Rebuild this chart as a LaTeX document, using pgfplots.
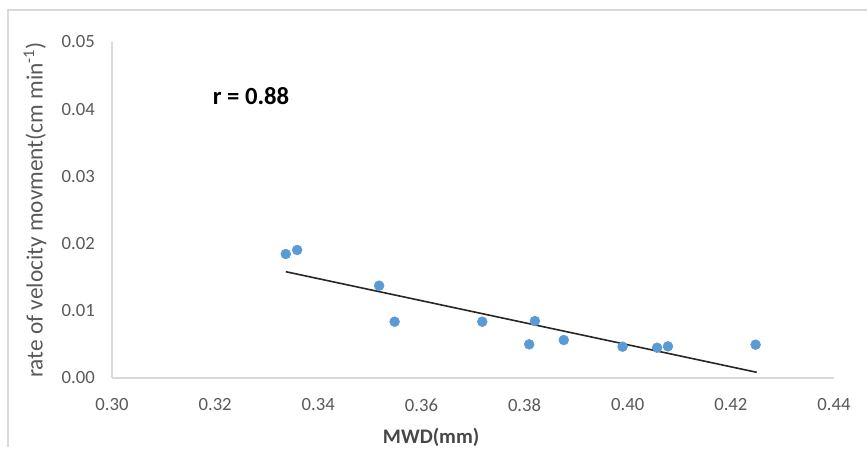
\documentclass[border=0pt]{standalone}
\usepackage{pgfplots}
\pgfplotsset{compat=1.18}
\usepackage{fontspec}
\setmainfont{Carlito}
\definecolor{ptblue}{RGB}{91,155,213}
\definecolor{txtgray}{RGB}{89,89,89}
\definecolor{axgray}{RGB}{217,217,217}
\definecolor{frgray}{RGB}{217,217,217}
\begin{document}
\begin{tikzpicture}
\begin{axis}[
  name=ax,
  scale only axis,
  width=541.5pt, height=252pt,
  xmin=0.30, xmax=0.44, ymin=0, ymax=0.05,
  xtick={0.30,0.32,0.34,0.36,0.38,0.40,0.42,0.44},
  ytick={0,0.01,0.02,0.03,0.04,0.05},
  axis x line*=bottom, axis y line*=left,
  axis line style={draw=axgray, line width=1.1pt, -},
  major tick length=0pt,
  clip=false,
  /pgf/number format/.cd, fixed, fixed zerofill, precision=2, assume math mode=true,
  /pgfplots/.cd,
  scaled ticks=false,
  tick label style={font=\fontsize{14}{16}\selectfont, text=txtgray, inner sep=0pt},
  xticklabel style={anchor=center, yshift=-20.25pt},
  yticklabel style={anchor=east, xshift=-12.75pt},
  xlabel={MWD(mm)},
  ylabel={rate of velocity movment(cm min\textsuperscript{-1})},
  xlabel style={at={(axis description cs:0.442,-0.1756)}, anchor=center, font=\fontsize{15.5}{18}\selectfont\bfseries, text=txtgray!80!black},
  ylabel style={at={(axis description cs:-0.1066,0.5)}, anchor=center, rotate=0, font=\fontsize{17.5}{20}\selectfont, text=txtgray},
]
\addplot[only marks, mark=*, mark size=3.7pt, mark options={fill=ptblue, draw=ptblue}] coordinates {
  (0.3337,0.01845)
  (0.3359,0.01905)
  (0.3518,0.01374)
  (0.3548,0.00838)
  (0.3718,0.00838)
  (0.3820,0.00848)
  (0.3809,0.00501)
  (0.3876,0.00565)
  (0.3990,0.00466)
  (0.4057,0.00451)
  (0.4078,0.00471)
  (0.4248,0.00496)
};
\addplot[draw=black!85, line width=1.2pt] coordinates {
  (0.3337,0.01582)
  (0.4250,0.00085)
};
\node[font=\fontsize{18.5}{20}\selectfont\bfseries, text=black, anchor=center] at (axis cs:0.32695,0.04196) {r = 0.88};
\end{axis}
\path[use as bounding box] (ax.south west) ++(-84pt,-51.75pt) rectangle ++(650.25pt,335.25pt);
\draw[frgray, line width=1.2pt] (ax.south west) ++(-78pt,-51.75pt) -- ++(0pt,327.75pt) -- ++(644.25pt,0pt);
\end{tikzpicture}
\end{document}
